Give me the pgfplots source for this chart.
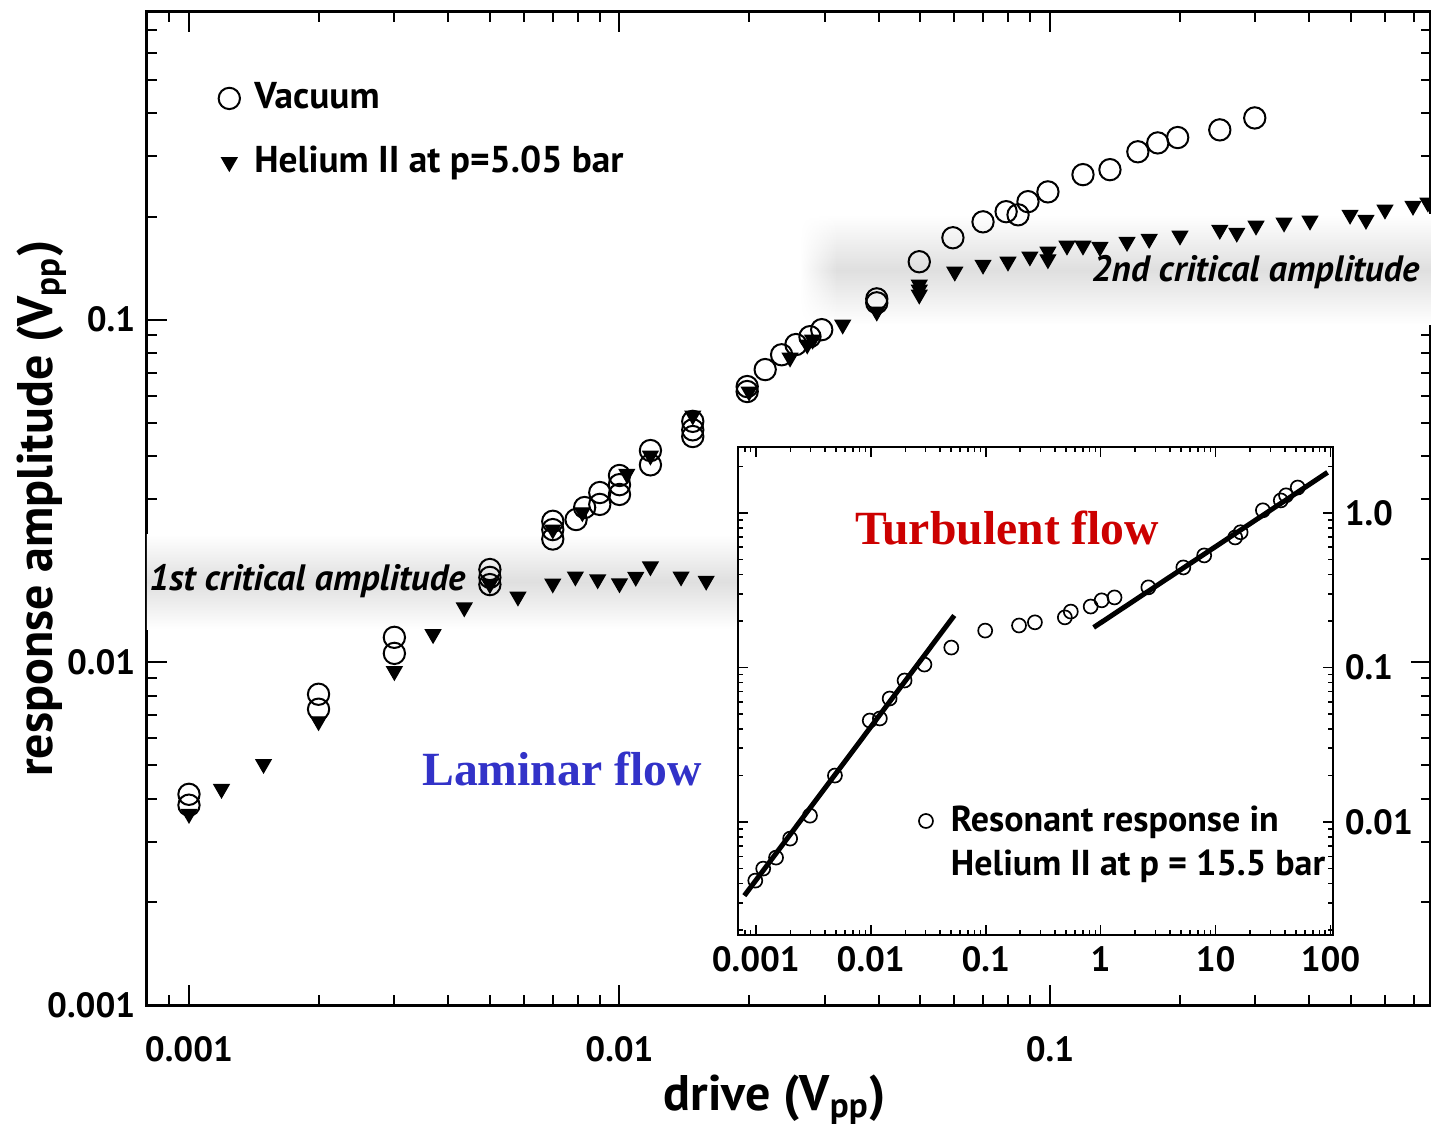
\documentclass[border=0pt]{standalone}
\usepackage{fontspec}
\setmainfont{PT Sans}
\newfontfamily\timesfont{Liberation Serif}
\usepackage{pgfplots}
\usetikzlibrary{fadings}
\pgfplotsset{compat=1.18}
\definecolor{lamblue}{RGB}{50,50,200}
\definecolor{turbred}{RGB}{204,0,0}
\pgfplotsset{mylegimg/.style={legend image code/.code={\draw[##1] plot coordinates {(3pt,0pt)}; \path (8.3pt,0pt);}}}
\begin{document}
\begin{tikzpicture}
\useasboundingbox (-44.1pt,-35.7pt) rectangle (385.2pt,301.5pt);
\begin{axis}[
  at={(0pt,0pt)}, anchor=south west,
  scale only axis, width=385.2pt, height=297.9pt,
  xmode=log, ymode=log,
  xmin=0.000799, xmax=0.7674, ymin=0.001, ymax=0.7906,
  axis line style={line width=0.9pt},
  tick align=inside,
  major tick length=6pt, minor tick length=3pt,
  every tick/.style={black, line width=0.6pt},
  xtick={0.001,0.01,0.1}, xticklabels={0.001,0.01,0.1},
  minor xtick={0.0008,0.0009,0.002,0.003,0.004,0.005,0.006,0.007,0.008,0.009,0.02,0.03,0.04,0.05,0.06,0.07,0.08,0.09,0.2,0.3,0.4,0.5,0.6,0.7},
  ytick={0.001,0.01,0.1}, yticklabels={0.001,0.01,0.1},
  minor ytick={0.002,0.003,0.004,0.005,0.006,0.007,0.008,0.009,0.02,0.03,0.04,0.05,0.06,0.07,0.08,0.09,0.2,0.3,0.4,0.5,0.6,0.7},
  ticklabel style={font=\fontsize{10.5}{12}\selectfont\bfseries},
  xticklabel style={yshift=-6pt},
  xlabel={drive (V\textsubscript{pp})},
  ylabel={response amplitude (V\textsubscript{pp})},
  label style={font=\fontsize{15}{17}\selectfont\bfseries},
  xlabel style={at={(axis description cs:0.489,-0.0957)}, anchor=center},
  ylabel style={at={(axis description cs:-0.0818,0.5)}, anchor=center},
  legend style={draw=none, fill=none, at={(axis description cs:0.0553,0.936)}, anchor=north west,
    font=\fontsize{11.2}{13}\selectfont\bfseries, row sep=5.7pt, inner sep=0pt},
  legend cell align=left,
]
\shade[top color=white, bottom color=white, middle color=gray!25] (axis cs:0.000799,0.0125) rectangle (axis cs:0.0188,0.0236);
\shade[top color=white, bottom color=white, middle color=gray!25, path fading=west] (axis cs:0.0262,0.0967) rectangle (axis cs:0.032,0.2023);
\shade[top color=white, bottom color=white, middle color=gray!25] (axis cs:0.0319,0.0967) rectangle (axis cs:0.7674,0.2023);
\node[anchor=west, inner sep=0pt, font=\fontsize{11}{12}\selectfont\bfseries\itshape] at (axis cs:0.000805,0.0173) {1st critical amplitude};
\node[anchor=east, inner sep=0pt, font=\fontsize{11}{12}\selectfont\bfseries\itshape] at (axis cs:0.7236,0.138) {2nd critical amplitude};
\node[font=\fontsize{14.3}{16}\selectfont\timesfont\bfseries, text=lamblue] at (axis cs:0.00735,0.00487) {Laminar flow};

\addplot[only marks, mark=o, mark size=3.2pt, mark options={line width=0.6pt, black}, mylegimg] coordinates {
(0.001,0.00412) (0.001,0.00383)
(0.002,0.00807) (0.002,0.00730)
(0.003,0.01183) (0.003,0.01062)
(0.005,0.01866) (0.005,0.0177) (0.005,0.01686)
(0.007,0.0258) (0.007,0.0244) (0.007,0.0229)
(0.00793,0.0261) (0.0083,0.0283)
(0.009,0.0313) (0.009,0.0289)
(0.01,0.0351) (0.01,0.0330) (0.01,0.0309)
(0.0118,0.0415) (0.0118,0.0377)
(0.0148,0.0505) (0.0148,0.0477) (0.0148,0.0456)
(0.0198,0.0638) (0.0198,0.0617)
(0.0218,0.0715) (0.0238,0.0790) (0.0257,0.0846) (0.0277,0.0892) (0.0295,0.0935)
(0.0396,0.115) (0.0396,0.112)
(0.0497,0.1476)
(0.0595,0.1734) (0.0699,0.193) (0.0791,0.2066) (0.0843,0.2023) (0.0889,0.221) (0.0989,0.236)
(0.1193,0.265) (0.1378,0.274) (0.160,0.309) (0.178,0.328) (0.198,0.340) (0.248,0.358) (0.299,0.388)
};
\addlegendentry{Vacuum}
\addplot[only marks, mark=triangle*, mark size=2.6pt, mark options={rotate=180, black, fill=black}, mylegimg] coordinates {
(0.001,0.00361) (0.00119,0.00427) (0.00149,0.00505) (0.002,0.00673) (0.003,0.00942) (0.00369,0.01208)
(0.00436,0.01446) (0.005,0.0169) (0.00581,0.01555) (0.007,0.01698) (0.0079,0.0178) (0.0089,0.01746)
(0.01,0.0170) (0.01091,0.01776) (0.0118,0.01905) (0.0139,0.0178) (0.0159,0.0173)
(0.007,0.0244) (0.0082,0.0274) (0.0104,0.0355) (0.0118,0.0401) (0.0148,0.0525) (0.0200,0.0617)
(0.0249,0.0775) (0.0273,0.0846) (0.0281,0.0874) (0.0330,0.0967) (0.0396,0.1055)
(0.0497,0.1265) (0.0497,0.1223) (0.0497,0.1183) (0.0601,0.138) (0.0699,0.1446) (0.0799,0.1476)
(0.0898,0.1528) (0.0989,0.150) (0.0989,0.158) (0.1095,0.1644) (0.1193,0.1644) (0.1306,0.163)
(0.151,0.1686) (0.170,0.172) (0.2004,0.1758) (0.248,0.1828) (0.2716,0.1793) (0.301,0.188)
(0.3497,0.192) (0.4018,0.1945) (0.4977,0.2023) (0.542,0.1955) (0.600,0.2094) (0.697,0.2148) (0.755,0.2195)
};
\addlegendentry{Helium II at p=5.05 bar}
\end{axis}

\begin{axis}[
  at={(177.3pt,21pt)}, anchor=south west,
  scale only axis, width=178.5pt, height=146.4pt,
  xmode=log, ymode=log,
  xmin=0.0007, xmax=105, ymin=0.00186, ymax=2.67,
  axis background/.style={fill=white},
  axis line style={line width=0.6pt},
  tick align=inside, major tick length=3pt, minor tick length=1.6pt,
  every tick/.style={black, line width=0.5pt},
  xtick={0.001,0.01,0.1,1,10,100}, xticklabels={0.001,0.01,0.1,1,10,100},
  minor xtick={0.0008,0.0009,0.002,0.003,0.004,0.005,0.006,0.007,0.008,0.009,0.02,0.03,0.04,0.05,0.06,0.07,0.08,0.09,0.2,0.3,0.4,0.5,0.6,0.7,0.8,0.9,2,3,4,5,6,7,8,9,20,30,40,50,60,70,80,90},
  ytick={0.01,0.1,1}, yticklabels={0.01,0.1,1.0},
  minor ytick={0.002,0.003,0.004,0.005,0.006,0.007,0.008,0.009,0.02,0.03,0.04,0.05,0.06,0.07,0.08,0.09,0.2,0.3,0.4,0.5,0.6,0.7,0.8,0.9,2},
  yticklabel pos=right,
  ticklabel style={font=\fontsize{10.5}{12}\selectfont\bfseries},
  legend style={draw=none, fill=none, at={(axis description cs:0.298,0.28)}, anchor=north west,
    font=\fontsize{10.8}{12}\selectfont\bfseries, row sep=0pt, inner sep=0pt},
  legend cell align=left,
]
\node[font=\fontsize{14.3}{16}\selectfont\timesfont\bfseries, text=turbred] at (axis cs:0.1535,0.794) {Turbulent flow};
\addplot[only marks, mark=o, mark size=2.1pt, mark options={line width=0.5pt, black}, mylegimg] coordinates {
(0.00099,0.00418) (0.00116,0.0050) (0.00150,0.00589) (0.00199,0.00782) (0.00296,0.0110) (0.00488,0.0200)
(0.0098,0.0454) (0.0120,0.0468) (0.0146,0.063) (0.0197,0.0824) (0.0293,0.1045) (0.0502,0.1346)
(0.099,0.1733) (0.195,0.187) (0.268,0.196) (0.488,0.211) (0.550,0.230) (0.819,0.248) (1.02,0.272)
(1.32,0.284) (2.60,0.330) (5.24,0.444) (7.96,0.531) (14.8,0.694) (16.5,0.75) (25.8,1.04) (36.9,1.205) (41,1.3) (51.8,1.46)
};
\addlegendentry{Resonant response in}
\addplot[black, line width=1.5pt, forget plot] coordinates {(0.000795,0.00334) (0.0533,0.217)};
\addplot[black, line width=1.5pt, forget plot] coordinates {(0.869,0.1816) (94.2,1.83)};
\addlegendimage{empty legend}
\addlegendentry{Helium II at p = 15.5 bar}
\end{axis}
\end{tikzpicture}
\end{document}
